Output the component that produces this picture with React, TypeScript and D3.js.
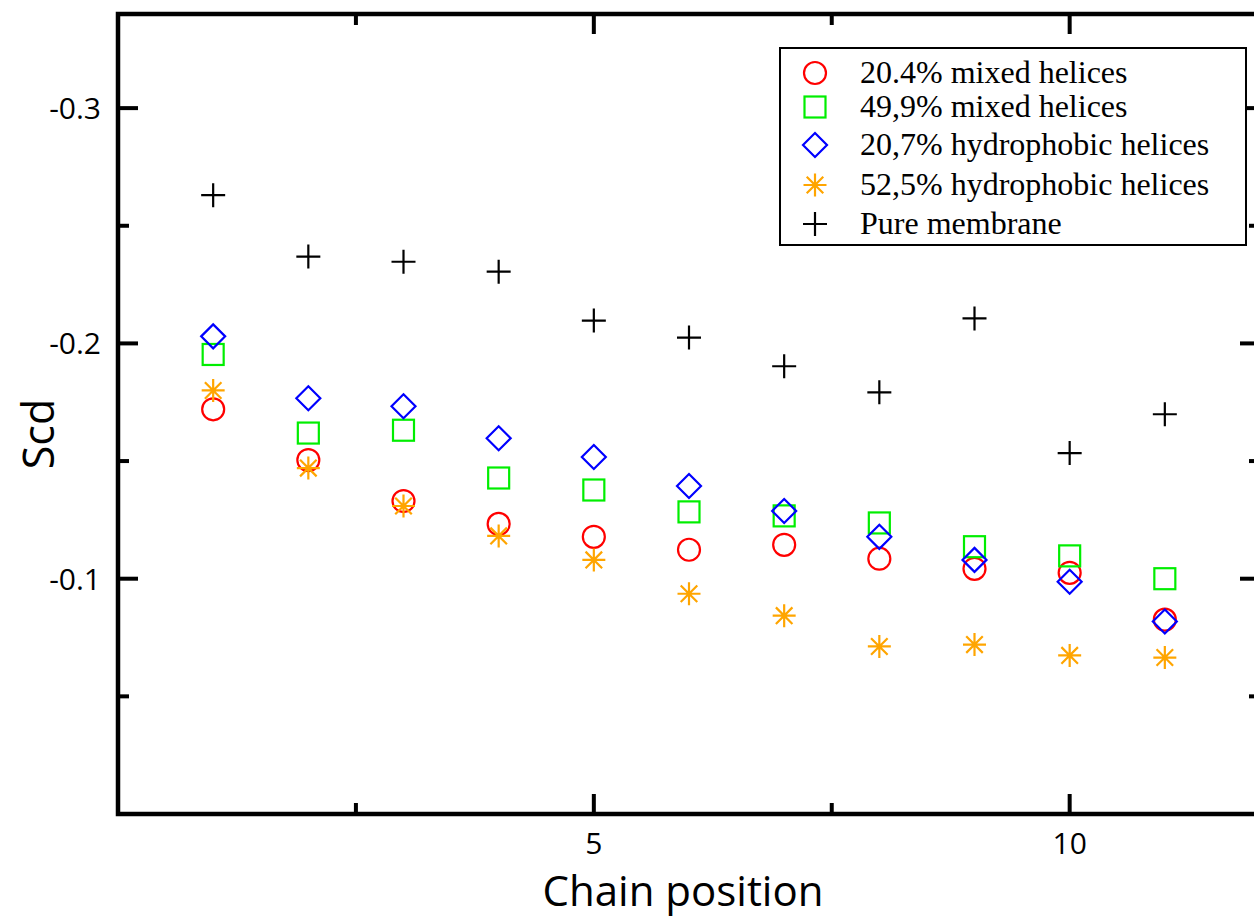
import React, { useRef, useEffect } from "react";
import * as d3 from "d3";

// Chain positions along x
const positions = [1, 2, 3, 4, 5, 6, 7, 8, 9, 10, 11];

// Order parameter values for each system
const mixed204 = [-0.172, -0.1504, -0.133, -0.1233, -0.1178, -0.1123, -0.1144, -0.1085, -0.1042, -0.1025, -0.0826];
const mixed499 = [-0.1953, -0.1619, -0.1631, -0.1428, -0.1377, -0.1284, -0.1267, -0.1237, -0.1136, -0.1097, -0.1];
const hydro207 = [-0.203, -0.1767, -0.1733, -0.1597, -0.1517, -0.1394, -0.1288, -0.1178, -0.108, -0.0987, -0.0818];
const hydro525 = [-0.18, -0.147, -0.1309, -0.1182, -0.108, -0.0936, -0.0843, -0.0712, -0.072, -0.0674, -0.0665];
const pureMembrane = [-0.263, -0.2369, -0.2347, -0.2305, -0.2097, -0.2025, -0.1903, -0.1792, -0.2106, -0.1534, -0.1699];

const seriesNames = [
  "20.4% mixed helices",
  "49,9% mixed helices",
  "20,7% hydrophobic helices",
  "52,5% hydrophobic helices",
  "Pure membrane",
];

const xMajorTicks = [5, 10];
const xMinorTicks = [2.5, 7.5];
const yMajorTicks = [-0.1, -0.2, -0.3];
const yMinorTicks = [-0.05, -0.15, -0.25];

const W = 1254, H = 920;

// draw one marker of a given kind at (cx, cy)
const drawMarker = (g, kind, cx, cy, color) => {
  const sw = 2.2;
  if (kind === "circle") {
    g.append("circle").attr("cx", cx).attr("cy", cy).attr("r", 11)
      .attr("fill", "none").attr("stroke", color).attr("stroke-width", sw);
  } else if (kind === "square") {
    g.append("rect").attr("x", cx - 10.5).attr("y", cy - 10.5).attr("width", 21).attr("height", 21)
      .attr("fill", "none").attr("stroke", color).attr("stroke-width", sw);
  } else if (kind === "diamond") {
    const s = 12;
    g.append("path").attr("d", `M${cx},${cy - s}L${cx + s},${cy}L${cx},${cy + s}L${cx - s},${cy}Z`)
      .attr("fill", "none").attr("stroke", color).attr("stroke-width", sw);
  } else if (kind === "star") {
    const s = 11.5, d = s * 0.72;
    g.append("path")
      .attr("d", `M${cx},${cy - s}V${cy + s}M${cx - s},${cy}H${cx + s}M${cx - d},${cy - d}L${cx + d},${cy + d}M${cx - d},${cy + d}L${cx + d},${cy - d}`)
      .attr("fill", "none").attr("stroke", color).attr("stroke-width", sw);
  } else {
    const s = 12;
    g.append("path").attr("d", `M${cx},${cy - s}V${cy + s}M${cx - s},${cy}H${cx + s}`)
      .attr("fill", "none").attr("stroke", color).attr("stroke-width", sw);
  }
};

const App = () => {
  const svgRef = useRef(null);

  useEffect(() => {
    const svg = d3.select(svgRef.current);
    svg.selectAll("*").remove();

    const x = d3.scaleLinear().domain([0, 12]).range([118, 1260]);
    const y = d3.scaleLinear().domain([0, -0.34]).range([814, 14]);

    const series = [
      { values: mixed204, kind: "circle", color: "#ff0000" },
      { values: mixed499, kind: "square", color: "#00ee00" },
      { values: hydro207, kind: "diamond", color: "#0000ff" },
      { values: hydro525, kind: "star", color: "#ffa500" },
      { values: pureMembrane, kind: "plus", color: "#000000" },
    ];

    const sans = "'Open Sans', 'DejaVu Sans', sans-serif";

    // frame
    svg.append("rect")
      .attr("x", x(0)).attr("y", y(-0.34))
      .attr("width", x(12) - x(0)).attr("height", y(0) - y(-0.34))
      .attr("fill", "none").attr("stroke", "#000").attr("stroke-width", 4.5);

    // ticks (pointing inward)
    const ticks = svg.append("g").attr("stroke", "#000").attr("stroke-width", 4);
    const tickLen = (major) => (major ? 20 : 11);
    [[xMajorTicks, true], [xMinorTicks, false]].forEach(([arr, major]) => {
      arr.forEach((t) => {
        ticks.append("line").attr("x1", x(t)).attr("x2", x(t))
          .attr("y1", y(0)).attr("y2", y(0) - tickLen(major));
        ticks.append("line").attr("x1", x(t)).attr("x2", x(t))
          .attr("y1", y(-0.34)).attr("y2", y(-0.34) + tickLen(major));
      });
    });
    [[yMajorTicks, true], [yMinorTicks, false]].forEach(([arr, major]) => {
      arr.forEach((t) => {
        ticks.append("line").attr("x1", x(0)).attr("x2", x(0) + tickLen(major))
          .attr("y1", y(t)).attr("y2", y(t));
        ticks.append("line").attr("x1", x(12)).attr("x2", x(12) - tickLen(major))
          .attr("y1", y(t)).attr("y2", y(t));
      });
    });

    // tick labels (plain hyphen for the minus sign, like the original)
    svg.append("g").selectAll("text").data(xMajorTicks).join("text")
      .attr("x", (d) => x(d)).attr("y", 854)
      .attr("text-anchor", "middle")
      .attr("font-family", sans).attr("font-size", 30)
      .text((d) => d);
    svg.append("g").selectAll("text").data(yMajorTicks).join("text")
      .attr("x", 101).attr("y", (d) => y(d) + 11)
      .attr("text-anchor", "end")
      .attr("font-family", sans).attr("font-size", 30)
      .text((d) => d3.format(".1f")(d).replace("\u2212", "-"));

    // axis titles
    svg.append("text")
      .attr("x", 683).attr("y", 906)
      .attr("text-anchor", "middle")
      .attr("font-family", sans).attr("font-size", 42)
      .text("Chain position");
    svg.append("text")
      .attr("transform", `translate(54, 434) rotate(-90)`)
      .attr("text-anchor", "middle")
      .attr("font-family", sans).attr("font-size", 43)
      .text("Scd");

    // data markers
    const marks = svg.append("g");
    series.forEach((s) => {
      s.values.forEach((v, i) => drawMarker(marks, s.kind, x(positions[i]), y(v), s.color));
    });

    // legend
    const legend = svg.append("g");
    legend.append("rect")
      .attr("x", 780).attr("y", 48).attr("width", 466).attr("height", 197)
      .attr("fill", "#fff").attr("stroke", "#000").attr("stroke-width", 2);
    const legendY = [73, 107, 145, 185, 224];
    series.forEach((s, i) => {
      drawMarker(legend, s.kind, 815, legendY[i], s.color);
      legend.append("text")
        .attr("x", 860).attr("y", legendY[i] + 10)
        .attr("font-family", "'Liberation Serif', 'Times New Roman', serif")
        .attr("font-size", 32)
        .text(seriesNames[i]);
    });
  }, []);

  return (
    <svg ref={svgRef} width={W} height={H}
      style={{ position: "absolute", left: 0, top: 0, display: "block", background: "#fff" }} />
  );
};

export default App;
